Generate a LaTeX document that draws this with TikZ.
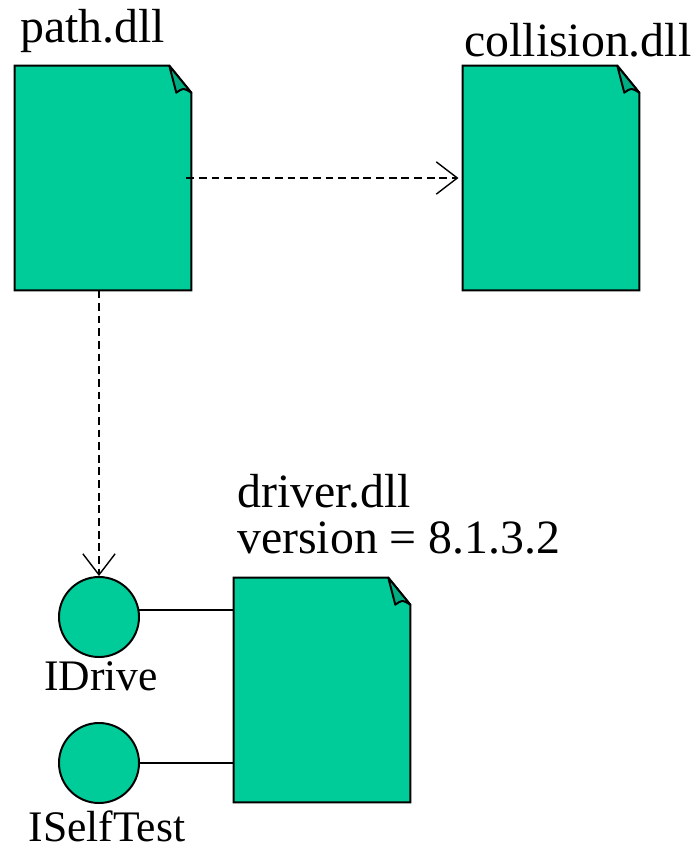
\documentclass[tikz,border=0pt]{standalone}
\usepackage{fontspec}
\setmainfont{Liberation Serif}
\newfontfamily\dllfont{Liberation Serif}
\usetikzlibrary{positioning,calc,arrows.meta}
\definecolor{dllgreen}{HTML}{00CC99}
\definecolor{foldgreen}{HTML}{00AD82}
\tikzset{
  doc/.style={minimum width=4.4cm,minimum height=5.6cm,inner sep=0pt},
  iface/.style={circle,draw,line width=1.4pt,fill=dllgreen,minimum size=2cm,inner sep=0pt},
  lbl/.style={font=\dllfont\fontsize{34}{32.6}\selectfont,inner sep=0pt},
  ifacelbl/.style={font=\dllfont\fontsize{31}{33}\selectfont,inner sep=0pt},
  dep/.style={dash pattern=on 5.5pt off 3.5pt,line width=1pt,-{Straight Barb[length=15pt,width=23pt,line width=1pt]}}
}
% component body with folded corner
\newcommand{\dllbox}[1]{%
  \draw[line width=1.4pt,fill=dllgreen] (#1.south west) -- (#1.north west)
    -- ($(#1.north east)+(-22,0)$) -- ($(#1.north east)+(0,27)$) -- (#1.south east) -- cycle;
  \draw[line width=1.4pt,fill=foldgreen,line join=round] ($(#1.north east)+(-22,0)$)
    .. controls ($(#1.north east)+(-18,14)$) .. ($(#1.north east)+(-15,27)$)
    .. controls ($(#1.north east)+(-8,22)$) .. ($(#1.north east)+(0,27)$) -- cycle;}
\begin{document}
\begin{tikzpicture}[x=0.025cm,y=-0.025cm]
\useasboundingbox (0,0) rectangle (696,851);
% components
\node[doc] (path) at (103,178) {};
\node[doc] (collision) at (551,178) {};
\node[doc] (driver) at (322,690) {};
\dllbox{path}
\dllbox{collision}
\dllbox{driver}
\node[lbl,anchor=base west] (pathlbl) at (20,42) {path.dll};
\node[lbl,anchor=base west] (collisionlbl) at (464,56) {collision.dll};
\node[lbl,anchor=base west,align=left] (driverlbl) at (237,553) {driver.dll\\version = 8.1.3.2};
% interfaces
\node[iface] (idrive) at (99,617) {};
\node[iface] (iselftest) at (99,763) {};
\node[ifacelbl,anchor=base] (idrivelbl) at (101,690) {IDrive};
\node[ifacelbl,anchor=base] (iselftestlbl) at (107,841) {ISelfTest};
\draw[line width=1pt] (idrive.10) -- (idrive.10 -| driver.west);
\draw[line width=1pt] (iselftest.east) -- (iselftest.east -| driver.west);
% dependencies
\draw[dep,shorten >=3pt] ($(path.east)+(-5,0)$) -- (collision.west);
\draw[dep] (idrive.north |- path.south) -- (idrive.north);
\end{tikzpicture}
\end{document}
